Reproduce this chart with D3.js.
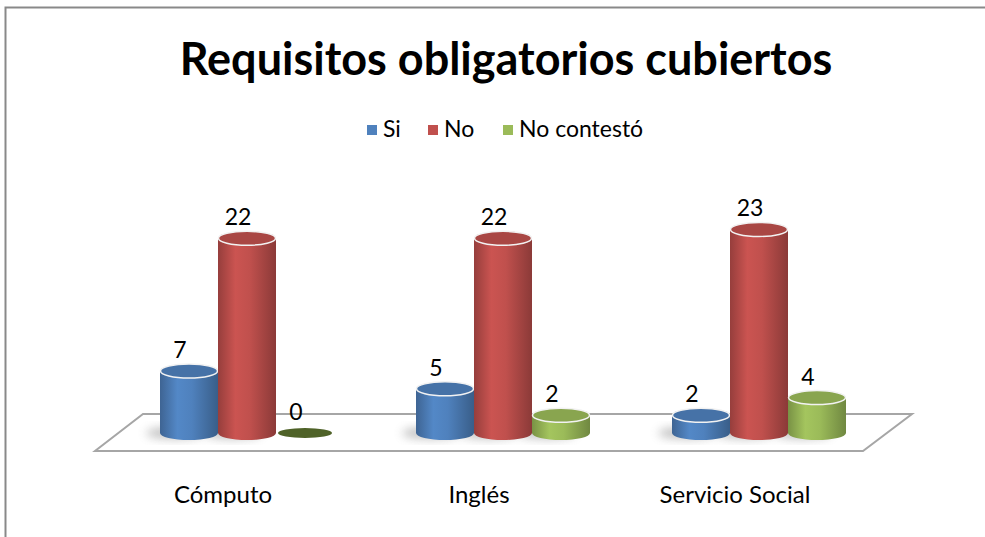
<!DOCTYPE html>
<meta charset="utf-8">
<head>
    <title>Requisitos obligatorios cubiertos</title>
    <script src="https://d3js.org/d3.v7.min.js"></script>
    <style>
        body { margin: 0; background: #fff; }
        text { font-family: Lato, "Open Sans", sans-serif; fill: #000; }
    </style>
</head>
<body>
<div id="chart"></div>
<script>
    // data
    var categories = ["Cómputo", "Inglés", "Servicio Social"];
    var series = ["Si", "No", "No contestó"];
    var colors = ["#4F81BD", "#C0504D", "#9BBB59"];
    var siValues = [7, 5, 2];
    var noValues = [22, 22, 23];
    var noContestoValues = [0, 2, 4];

    var width = 985, height = 537;
    var base = 433;

    var svg = d3.select("#chart").append("svg")
        .attr("width", width)
        .attr("height", height);

    // outer frame
    svg.append("rect")
        .attr("x", 5.5).attr("y", 7.5)
        .attr("width", 1000).attr("height", 600)
        .attr("fill", "none")
        .attr("stroke", "#898989")
        .attr("stroke-width", 2);

    // scales
    var x = d3.scalePoint().domain(categories).range([247, 759]);
    var xs = d3.scaleBand().domain(series).range([-87, 87]).padding(0);
    var y = d3.scaleLinear().domain([0, 23]).range([base, base - 23 * 8.85]);
    var color = d3.scaleOrdinal().domain(series).range(colors);

    var rx = xs.bandwidth() / 2, ry = 7;

    var defs = svg.append("defs");

    // side gradients for each series
    series.forEach(function(s, i) {
        var c = d3.color(colors[i]);
        var g = defs.append("linearGradient")
            .attr("id", "grad" + i)
            .attr("x1", "0%").attr("x2", "100%");
        g.append("stop").attr("offset", "0%").attr("stop-color", c.darker(0.7));
        g.append("stop").attr("offset", "30%").attr("stop-color", c.brighter(0.15));
        g.append("stop").attr("offset", "55%").attr("stop-color", c);
        g.append("stop").attr("offset", "100%").attr("stop-color", c.darker(0.9));
    });

    defs.append("filter").attr("id", "blur")
        .attr("x", "-50%").attr("y", "-50%").attr("width", "200%").attr("height", "200%")
        .append("feGaussianBlur").attr("stdDeviation", 5);

    // floor
    svg.append("path")
        .attr("d", "M" + (x(categories[0]) - 104) + "," + (base - 19) +
            "L" + (x(categories[2]) + 153) + "," + (base - 19) +
            "L" + (x(categories[2]) + 104) + "," + (base + 18) +
            "L" + (x(categories[0]) - 152) + "," + (base + 18) + "Z")
        .attr("fill", "#fff")
        .attr("stroke", "#a6a6a6")
        .attr("stroke-width", 2);

    // table of bars
    var bars = [];
    categories.forEach(function(c, ci) {
        [siValues, noValues, noContestoValues].forEach(function(vals, si) {
            bars.push({ cat: c, series: series[si], si: si, value: vals[ci] });
        });
    });

    // shadows
    svg.append("g").selectAll("ellipse.shadow")
        .data(bars.filter(function(d) { return d.value > 0; }))
        .join("ellipse")
        .attr("cx", function(d) { return x(d.cat) + xs(d.series) + rx - 14; })
        .attr("cy", base)
        .attr("rx", rx)
        .attr("ry", 6)
        .attr("fill", "#777")
        .attr("opacity", 0.45)
        .attr("filter", "url(#blur)");

    var g = svg.append("g").selectAll("g.bar")
        .data(bars)
        .join("g");

    g.each(function(d) {
        var sel = d3.select(this);
        var cx = x(d.cat) + xs(d.series) + rx;
        var top = y(d.value);
        var c = d3.color(color(d.series));
        if (d.value === 0) {
            sel.append("ellipse")
                .attr("cx", cx).attr("cy", base)
                .attr("rx", rx - 2).attr("ry", 5)
                .attr("fill", "#4F6228");
        } else {
            sel.append("path")
                .attr("d", "M" + (cx - rx) + "," + top +
                    "L" + (cx - rx) + "," + base +
                    "A" + rx + "," + ry + " 0 0 0 " + (cx + rx) + "," + base +
                    "L" + (cx + rx) + "," + top + "Z")
                .attr("fill", "url(#grad" + d.si + ")");
            sel.append("ellipse")
                .attr("cx", cx).attr("cy", top)
                .attr("rx", rx - 0.5).attr("ry", ry)
                .attr("fill", c.darker(0.35))
                .attr("stroke", "#f2f2f2")
                .attr("stroke-width", 1.5);
        }
        sel.append("text")
            .attr("x", cx - 9)
            .attr("y", top - 13)
            .attr("text-anchor", "middle")
            .attr("font-size", 23)
            .text(d.value);
    });

    // category labels
    svg.append("g").selectAll("text")
        .data(categories)
        .join("text")
        .attr("x", function(d) { return x(d) - 24; })
        .attr("y", 503)
        .attr("text-anchor", "middle")
        .attr("font-size", 24)
        .text(function(d) { return d; });

    // title
    svg.append("text")
        .attr("x", 506)
        .attr("y", 75)
        .attr("text-anchor", "middle")
        .attr("font-size", 45)
        .attr("font-weight", "bold")
        .text("Requisitos obligatorios cubiertos");

    // legend
    var legendX = [367, 428, 503];
    var legend = svg.append("g").selectAll("g")
        .data(series)
        .join("g")
        .attr("transform", function(d, i) { return "translate(" + legendX[i] + ",125)"; });
    legend.append("rect")
        .attr("width", 10).attr("height", 10)
        .attr("fill", function(d) { return color(d); });
    legend.append("text")
        .attr("x", 16).attr("y", 12)
        .attr("font-size", 23)
        .text(function(d) { return d; });
</script>
</body>
</html>
